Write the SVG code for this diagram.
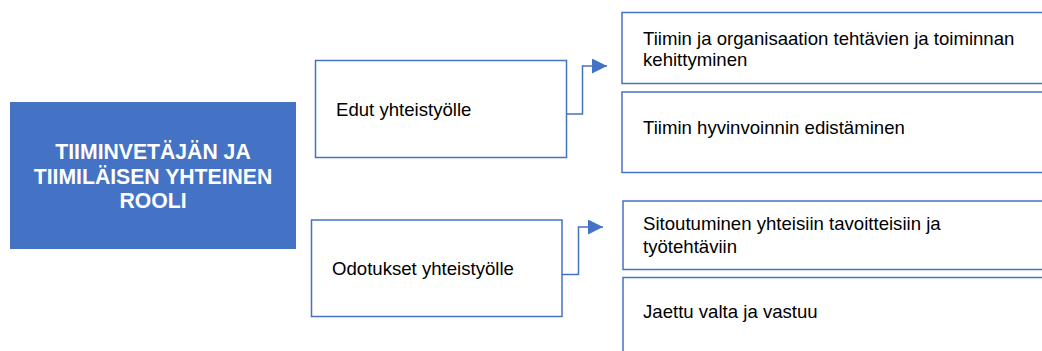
<svg xmlns="http://www.w3.org/2000/svg" width="1042" height="351" viewBox="0 0 1042 351">
<defs>
<style>
.box{fill:#fff;stroke:#4472C4;stroke-width:1.5}
.t{font-family:"Liberation Sans",Arial,sans-serif;font-size:18.6px;fill:#000}
.h{font-family:"Liberation Sans",Arial,sans-serif;font-size:21.2px;font-weight:bold;fill:#fff;text-anchor:middle}
.c{fill:none;stroke:#4472C4;stroke-width:1.5}
</style>
<marker id="ah" markerWidth="15" markerHeight="15" refX="15" refY="7.5" orient="auto" markerUnits="userSpaceOnUse">
<path d="M0,0 L15,7.5 L0,15 Z" fill="#4472C4"/>
</marker>
</defs>
<rect width="1042" height="351" fill="#fff"/>
<g id="main">
<rect x="10" y="102" width="286" height="147" fill="#4472C4"/>
<text class="h" x="153" y="159">TIIMINVETÄJÄN JA</text>
<text class="h" x="153" y="184">TIIMILÄISEN YHTEINEN</text>
<text class="h" x="153" y="208">ROOLI</text>
</g>
<g id="edut">
<rect class="box" x="315.5" y="60.5" width="251" height="97"/>
<text class="t" x="336" y="116">Edut yhteistyölle</text>
</g>
<g id="odotukset">
<rect class="box" x="311.5" y="220" width="250.5" height="96.5"/>
<text class="t" x="332" y="275">Odotukset yhteistyölle</text>
</g>
<g id="r1">
<rect class="box" x="622" y="12.5" width="430" height="71"/>
<text class="t" x="643" y="44.5">Tiimin ja organisaation tehtävien ja toiminnan</text>
<text class="t" x="643" y="65.5">kehittyminen</text>
</g>
<g id="r2">
<rect class="box" x="622" y="92" width="430" height="80.5"/>
<text class="t" x="643" y="133.5">Tiimin hyvinvoinnin edistäminen</text>
</g>
<g id="r3">
<rect class="box" x="623" y="201" width="430" height="68.5"/>
<text class="t" x="643" y="230">Sitoutuminen yhteisiin tavoitteisiin ja</text>
<text class="t" x="643" y="252.5">työtehtäviin</text>
</g>
<g id="r4">
<rect class="box" x="623" y="277.5" width="430" height="90"/>
<text class="t" x="643" y="317.5">Jaettu valta ja vastuu</text>
</g>
<g id="connectors">
<path class="c" d="M566.5,114 H582.5 V66 H607" marker-end="url(#ah)"/>
<path class="c" d="M562,274.5 H578.5 V227 H603" marker-end="url(#ah)"/>
</g>
</svg>
